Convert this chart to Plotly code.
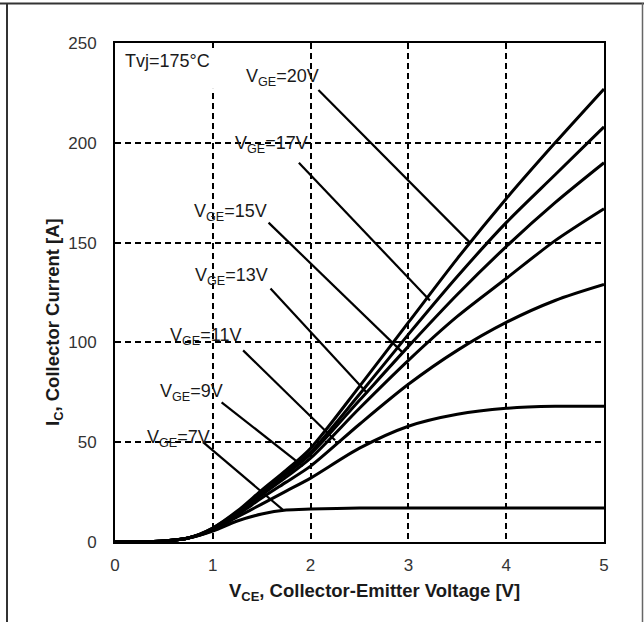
import plotly.graph_objects as go

# ---------------- data ----------------
vce = [0, 0.25, 0.5, 0.75, 1.0, 1.25, 1.5, 1.75, 2.0, 2.5, 3.0, 3.5, 4.0, 4.5, 5.0]
ic_20v = [0, 0, 0.5, 2, 7, 15.5, 26, 36, 47, 78, 110, 142, 172, 200, 227]
ic_17v = [0, 0, 0.5, 2, 7, 15, 25, 35, 45, 74, 104, 133, 160, 184, 208]
ic_15v = [0, 0, 0.5, 2, 6.5, 14.5, 24.5, 34, 44, 71, 98, 124, 148, 170, 190]
ic_13v = [0, 0, 0.5, 2, 6.5, 14, 23.5, 32.5, 42, 67, 91, 113, 132, 151, 167]
ic_11v = [0, 0, 0.5, 2, 6, 13.5, 22, 30, 38, 59, 79, 96, 110, 121, 129]
ic_9v = [0, 0, 0.5, 2, 6, 12.5, 19, 25.5, 32, 47, 58, 64, 67, 68, 68]
ic_7v = [0, 0, 0.5, 2, 5.5, 10.5, 14, 16, 16.5, 17, 17, 17, 17, 17, 17]

series = [ic_20v, ic_17v, ic_15v, ic_13v, ic_11v, ic_9v, ic_7v]

labels = ["V<sub>GE</sub>=20V", "V<sub>GE</sub>=17V", "V<sub>GE</sub>=15V",
          "V<sub>GE</sub>=13V", "V<sub>GE</sub>=11V", "V<sub>GE</sub>=9V",
          "V<sub>GE</sub>=7V"]
label_x = [1.71, 1.60, 1.18, 1.19, 0.93, 0.78, 0.645]
label_y = [232.5, 199, 165, 133, 103, 75, 52]
lead_x0 = [2.08, 1.88, 1.57, 1.59, 1.31, 1.09, 0.90]
lead_y0 = [226.5, 190, 160, 127, 96, 70, 50]
lead_x1 = [3.63, 3.22, 2.94, 2.58, 2.25, 1.92, 1.72]
lead_y1 = [150, 121, 95, 74.5, 51, 38, 16]

x_ticks = [0, 1, 2, 3, 4, 5]
y_ticks = [0, 50, 100, 150, 200, 250]

# ---------------- figure ----------------
W, H = 644, 622
ML, MR, MT, MB = 115, 40, 43, 80
PW, PH = W - ML - MR, H - MT - MB
FONT = "Liberation Sans"
TXT = "#1a1a1a"


def px2paper_x(px):
    return (px - ML) / PW


def px2paper_y(py):
    return 1 - (py - MT) / PH


fig = go.Figure()
for name, ys in zip(labels, series):
    fig.add_trace(go.Scatter(
        x=vce, y=ys, mode="lines", name=name,
        line=dict(color="black", width=3, shape="spline", smoothing=0.8),
        showlegend=False, hoverinfo="skip"))

# leader lines
for x0, y0, x1, y1 in zip(lead_x0, lead_y0, lead_x1, lead_y1):
    fig.add_shape(type="line", xref="x", yref="y", x0=x0, y0=y0, x1=x1, y1=y1,
                  line=dict(color="black", width=2.2))

# labels
for t, lx, ly in zip(labels, label_x, label_y):
    fig.add_annotation(x=lx, y=ly, xref="x", yref="y", text=t, showarrow=False,
                       font=dict(family=FONT, size=18, color=TXT),
                       xanchor="center", yanchor="middle")

# white patch hiding the x=1 gridline behind the temperature label
fig.add_shape(type="rect", xref="x", yref="y", x0=0.96, x1=1.04, y0=227, y1=247.5,
              fillcolor="white", line=dict(width=0), layer="between")

fig.add_annotation(x=0.08, y=241, xref="x", yref="y", text="Tvj=175°C",
                   showarrow=False, xanchor="left", yanchor="middle",
                   font=dict(family=FONT, size=18, color=TXT))

# axis titles as annotations
fig.add_annotation(x=px2paper_x(374), y=px2paper_y(592), xref="paper", yref="paper",
                   text="<b>V<sub>CE</sub>, Collector-Emitter Voltage [V]</b>",
                   showarrow=False, xanchor="center", yanchor="middle",
                   font=dict(family=FONT, size=18.5, color=TXT))
fig.add_annotation(x=px2paper_x(54), y=px2paper_y(322), xref="paper", yref="paper",
                   text="<b>I<sub>C</sub>, Collector Current [A]</b>", textangle=-90,
                   showarrow=False, xanchor="center", yanchor="middle",
                   font=dict(family=FONT, size=18.5, color=TXT))

# outer frame lines of the picture
frame_col = "#333"
fig.add_shape(type="line", xref="paper", yref="paper",
              x0=px2paper_x(0), x1=px2paper_x(W), y0=px2paper_y(3.5), y1=px2paper_y(3.5),
              line=dict(color=frame_col, width=2))
fig.add_shape(type="line", xref="paper", yref="paper",
              x0=px2paper_x(7), x1=px2paper_x(7), y0=px2paper_y(3), y1=px2paper_y(H),
              line=dict(color=frame_col, width=2))
fig.add_shape(type="line", xref="paper", yref="paper",
              x0=px2paper_x(642.5), x1=px2paper_x(642.5), y0=px2paper_y(3), y1=px2paper_y(H),
              line=dict(color="#666", width=1.5))

grid_common = dict(showgrid=True, gridcolor="black", gridwidth=2, griddash="6px,4px",
                   showline=True, linecolor="black", linewidth=2, mirror=True,
                   zeroline=False, ticks="", fixedrange=True,
                   tickfont=dict(family=FONT, size=17, color="#333"))

fig.update_xaxes(range=[0, 5], tickvals=x_ticks, ticktext=[str(v) for v in x_ticks],
                 ticklabelstandoff=7, **grid_common)
fig.update_yaxes(range=[0, 250], tickvals=y_ticks, ticktext=[str(v) for v in y_ticks],
                 ticklabelstandoff=13, **grid_common)

fig.update_layout(width=W, height=H, margin=dict(l=ML, r=MR, t=MT, b=MB),
                  paper_bgcolor="white", plot_bgcolor="white",
                  font=dict(family=FONT))

fig.write_html("out.html")
